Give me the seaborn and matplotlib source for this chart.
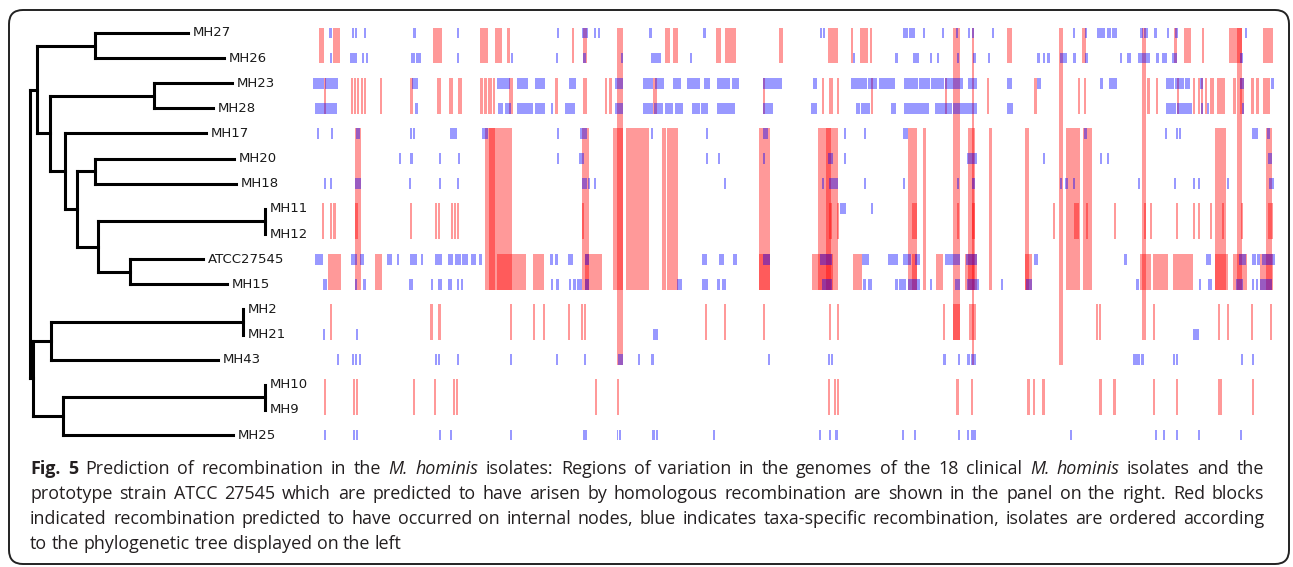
import re
import matplotlib
matplotlib.use("Agg")
import matplotlib.pyplot as plt
from matplotlib.patches import FancyBboxPatch
from matplotlib.transforms import IdentityTransform
import seaborn as sns
import pandas as pd

sns.set_theme(style="white")
plt.rcParams['font.family'] = ['DejaVu Sans']

# isolates in the order of the tree (top to bottom)
isolates = ["MH27", "MH26", "MH23", "MH28", "MH17", "MH20", "MH18", "MH11", "MH12",
            "ATCC27545", "MH15", "MH2", "MH21", "MH43", "MH10", "MH9", "MH25"]

# phylogeny (branch lengths)
tree_newick = ("(((MH27:93,MH26:129):58,((MH23:78,MH28:59):104,(MH17:141,((MH20:139,MH18:141):18,"
               "((MH11:0,MH12:0):167,(ATCC27545:73,MH15:97):32):21):12):15):13):7,"
               "(((MH2:0,MH21:0):192,MH43:167):18,((MH10:0,MH9:0):202,MH25:170):30):3);")

# recombination on internal nodes: (start, end, first isolate, last isolate)
red_blocks = [
    # MH27 / MH26
    (7, 12, "MH27", "MH26"), (21, 28, "MH27", "MH26"), (121, 130, "MH27", "MH26"),
    (168, 176, "MH27", "MH26"), (183, 190, "MH27", "MH26"), (195, 198, "MH27", "MH26"),
    (260, 262, "MH27", "MH26"), (271, 275, "MH27", "MH26"), (353, 358, "MH27", "MH26"),
    (361, 366, "MH27", "MH26"), (404, 409, "MH27", "MH26"), (413, 424, "MH27", "MH26"),
    (467, 471, "MH27", "MH26"), (516, 526, "MH27", "MH26"), (539, 541, "MH27", "MH26"),
    (548, 556, "MH27", "MH26"), (558, 560, "MH27", "MH26"), (695, 700, "MH27", "MH26"),
    (770, 774, "MH27", "MH26"), (862, 865, "MH27", "MH26"), (872, 879, "MH27", "MH26"),
    (890, 892, "MH27", "MH26"), (917, 930, "MH27", "MH26"), (951, 961, "MH27", "MH26"),
    # long shared blocks
    (305, 311, "MH27", "MH43"), (660, 662, "MH27", "MH43"), (747, 751, "MH27", "MH43"),
    (641, 648, "MH27", "MH21"), (830, 834, "MH27", "MH21"), (925, 930, "MH27", "MH15"),
    # MH23 / MH28
    (12, 14, "MH23", "MH28"), (39, 41, "MH23", "MH28"), (42, 44, "MH23", "MH28"),
    (45, 47, "MH23", "MH28"), (49, 51, "MH23", "MH28"), (52, 54, "MH23", "MH28"),
    (68, 70, "MH23", "MH28"), (98, 101, "MH23", "MH28"), (125, 129, "MH23", "MH28"),
    (137, 141, "MH23", "MH28"), (146, 150, "MH23", "MH28"), (168, 171, "MH23", "MH28"),
    (172, 175, "MH23", "MH28"), (176, 180, "MH23", "MH28"), (181, 183, "MH23", "MH28"),
    (197, 201, "MH23", "MH28"), (243, 246, "MH23", "MH28"), (271, 275, "MH23", "MH28"),
    (293, 295, "MH23", "MH28"), (297, 300, "MH23", "MH28"), (341, 345, "MH23", "MH28"),
    (451, 453, "MH23", "MH28"), (510, 512, "MH23", "MH28"), (517, 521, "MH23", "MH28"),
    (525, 527, "MH23", "MH28"), (559, 561, "MH23", "MH28"), (633, 635, "MH23", "MH28"),
    (675, 677, "MH23", "MH28"), (722, 725, "MH23", "MH28"), (766, 768, "MH23", "MH28"),
    (772, 774, "MH23", "MH28"), (835, 838, "MH23", "MH28"), (844, 846, "MH23", "MH28"),
    (865, 867, "MH23", "MH28"), (881, 883, "MH23", "MH28"), (886, 888, "MH23", "MH28"),
    (889, 891, "MH23", "MH28"), (893, 895, "MH23", "MH28"), (898, 902, "MH23", "MH28"),
    (905, 913, "MH23", "MH28"), (921, 924, "MH23", "MH28"), (928, 932, "MH23", "MH28"),
    (939, 942, "MH23", "MH28"), (944, 947, "MH23", "MH28"), (951, 958, "MH23", "MH28"),
    # MH17 .. MH15
    (43, 49, "MH17", "MH15"), (173, 200, "MH17", "MH15"), (177, 183, "MH17", "MH15"),
    (270, 277, "MH17", "MH15"), (301, 311, "MH17", "MH15"), (314, 337, "MH17", "MH15"),
    (350, 354, "MH17", "MH15"), (355, 366, "MH17", "MH15"), (447, 458, "MH17", "MH15"),
    (506, 526, "MH17", "MH15"), (514, 519, "MH17", "MH15"), (596, 605, "MH17", "MH15"),
    (611, 614, "MH17", "MH15"), (656, 663, "MH17", "MH15"), (677, 680, "MH17", "MH15"),
    (713, 717, "MH17", "MH15"), (754, 768, "MH17", "MH15"), (771, 780, "MH17", "MH15"),
    (903, 914, "MH17", "MH15"), (954, 960, "MH17", "MH15"),
    # MH11 / MH12
    (10, 12, "MH11", "MH12"), (18, 20, "MH11", "MH12"), (21, 24, "MH11", "MH12"),
    (43, 46, "MH11", "MH12"), (98, 100, "MH11", "MH12"), (123, 125, "MH11", "MH12"),
    (126, 128, "MH11", "MH12"), (139, 141, "MH11", "MH12"), (142, 144, "MH11", "MH12"),
    (145, 147, "MH11", "MH12"), (270, 272, "MH11", "MH12"), (517, 520, "MH11", "MH12"),
    (525, 527, "MH11", "MH12"), (600, 605, "MH11", "MH12"), (645, 647, "MH11", "MH12"),
    (660, 663, "MH11", "MH12"), (741, 743, "MH11", "MH12"), (762, 767, "MH11", "MH12"),
    (774, 776, "MH11", "MH12"), (802, 804, "MH11", "MH12"), (832, 834, "MH11", "MH12"),
    (838, 840, "MH11", "MH12"), (864, 866, "MH11", "MH12"), (881, 883, "MH11", "MH12"),
    (886, 888, "MH11", "MH12"), (898, 900, "MH11", "MH12"), (910, 912, "MH11", "MH12"),
    (929, 931, "MH11", "MH12"), (956, 961, "MH11", "MH12"),
    # ATCC27545 / MH15
    (16, 29, "ATCC27545", "MH15"), (63, 70, "ATCC27545", "MH15"), (185, 214, "ATCC27545", "MH15"),
    (221, 232, "ATCC27545", "MH15"), (273, 290, "ATCC27545", "MH15"), (447, 458, "ATCC27545", "MH15"),
    (500, 521, "ATCC27545", "MH15"), (541, 550, "ATCC27545", "MH15"), (600, 605, "ATCC27545", "MH15"),
    (624, 631, "ATCC27545", "MH15"), (653, 665, "ATCC27545", "MH15"), (713, 720, "ATCC27545", "MH15"),
    (828, 839, "ATCC27545", "MH15"), (841, 856, "ATCC27545", "MH15"), (861, 881, "ATCC27545", "MH15"),
    (903, 916, "ATCC27545", "MH15"), (921, 935, "ATCC27545", "MH15"), (948, 961, "ATCC27545", "MH15"),
    # MH2 / MH21
    (18, 20, "MH2", "MH21"), (118, 121, "MH2", "MH21"), (126, 129, "MH2", "MH21"),
    (198, 200, "MH2", "MH21"), (221, 223, "MH2", "MH21"), (231, 233, "MH2", "MH21"),
    (256, 258, "MH2", "MH21"), (269, 271, "MH2", "MH21"), (272, 274, "MH2", "MH21"),
    (393, 395, "MH2", "MH21"), (412, 414, "MH2", "MH21"), (451, 453, "MH2", "MH21"),
    (517, 519, "MH2", "MH21"), (525, 527, "MH2", "MH21"), (631, 633, "MH2", "MH21"),
    (641, 648, "MH2", "MH21"), (657, 664, "MH2", "MH21"), (784, 786, "MH2", "MH21"),
    (787, 789, "MH2", "MH21"), (841, 843, "MH2", "MH21"), (906, 908, "MH2", "MH21"),
    (915, 917, "MH2", "MH21"), (939, 941, "MH2", "MH21"), (958, 960, "MH2", "MH21"),
    # MH10 / MH9
    (12, 14, "MH10", "MH9"), (41, 43, "MH10", "MH9"), (44, 46, "MH10", "MH9"),
    (101, 103, "MH10", "MH9"), (122, 124, "MH10", "MH9"), (141, 143, "MH10", "MH9"),
    (144, 146, "MH10", "MH9"), (283, 285, "MH10", "MH9"), (305, 307, "MH10", "MH9"),
    (516, 518, "MH10", "MH9"), (522, 524, "MH10", "MH9"), (525, 527, "MH10", "MH9"),
    (644, 647, "MH10", "MH9"), (659, 661, "MH10", "MH9"), (715, 718, "MH10", "MH9"),
    (721, 723, "MH10", "MH9"), (730, 733, "MH10", "MH9"), (787, 790, "MH10", "MH9"),
    (801, 804, "MH10", "MH9"), (841, 843, "MH10", "MH9"), (864, 866, "MH10", "MH9"),
    (906, 910, "MH10", "MH9"), (940, 942, "MH10", "MH9"),
]

# taxa-specific recombination: (start, end) per isolate
blue_blocks = {
    "MH27": [(17, 20), (40, 42), (43, 45), (52, 54), (101, 104), (145, 147), (245, 247), (270, 276),
             (282, 284), (286, 288), (337, 340), (391, 394), (508, 510), (511, 513), (591, 596),
             (597, 603), (611, 613), (630, 632), (644, 646), (656, 658), (660, 662), (680, 682),
             (761, 763), (773, 775), (785, 793), (795, 799), (800, 805), (828, 831), (832, 836),
             (842, 845), (855, 857), (863, 866), (933, 935)],
    "MH26": [(18, 20), (38, 45), (50, 52), (54, 56), (99, 103), (104, 109), (145, 147), (199, 201),
             (244, 246), (271, 274), (309, 311), (339, 349), (378, 380), (541, 543), (583, 586),
             (601, 607), (618, 620), (625, 627), (645, 647), (661, 664), (676, 678), (725, 728),
             (731, 733), (735, 738), (748, 755), (761, 764), (773, 776), (808, 810), (815, 819),
             (826, 838), (844, 847), (850, 855), (860, 865), (928, 931)],
    "MH23": [(1, 12), (13, 26), (100, 106), (185, 198), (205, 216), (223, 233), (257, 264),
             (303, 311), (331, 341), (343, 352), (361, 369), (375, 388), (392, 398), (405, 418),
             (420, 427), (451, 470), (501, 505), (539, 555), (556, 565), (567, 583), (592, 606),
             (607, 618), (619, 632), (633, 651), (656, 665), (695, 700), (725, 729), (788, 791),
             (797, 805), (854, 862), (863, 872), (873, 878), (888, 891), (928, 932), (959, 962)],
    "MH28": [(3, 25), (103, 106), (186, 191), (193, 199), (205, 221), (223, 233), (239, 241),
             (253, 263), (303, 311), (331, 341), (342, 351), (353, 361), (363, 371), (380, 388),
             (389, 396), (405, 423), (451, 461), (499, 505), (544, 548), (549, 558), (579, 584),
             (592, 617), (623, 640), (641, 665), (695, 701), (854, 864), (865, 880), (889, 891),
             (895, 897), (930, 932)],
    "MH17": [(5, 7), (19, 21), (44, 48), (98, 100), (101, 103), (138, 145), (170, 176), (245, 247),
             (268, 275), (339, 341), (394, 396), (451, 456), (532, 534), (552, 554), (591, 596),
             (772, 775), (853, 855), (864, 866), (867, 869), (940, 946), (955, 958)],
    "MH20": [(87, 89), (98, 101), (127, 129), (146, 148), (245, 247), (267, 272), (394, 396),
             (406, 408), (451, 453), (516, 521), (532, 534), (655, 665), (731, 733), (788, 790),
             (795, 797), (956, 960)],
    "MH18": [(12, 14), (18, 20), (43, 49), (97, 99), (127, 129), (145, 147), (270, 275), (276, 278),
             (282, 284), (412, 414), (510, 512), (517, 526), (552, 554), (591, 593), (645, 647),
             (660, 663), (748, 750), (753, 756), (761, 763), (826, 828), (862, 864), (881, 883),
             (886, 888), (915, 917), (957, 962)],
    "MH11": [(528, 534), (559, 561)],
    "MH12": [],
    "ATCC27545": [(3, 11), (39, 45), (48, 52), (75, 80), (85, 87), (98, 105), (109, 111), (123, 130),
                  (136, 141), (143, 149), (150, 156), (159, 164), (167, 170), (238, 241), (243, 246),
                  (256, 261), (273, 277), (390, 395), (407, 412), (421, 425), (451, 458), (508, 520),
                  (550, 557), (576, 586), (591, 599), (603, 608), (633, 648), (654, 665), (722, 726),
                  (812, 815), (894, 899), (927, 934), (940, 944), (945, 948), (950, 963)],
    "MH15": [(11, 15), (43, 45), (51, 54), (97, 101), (119, 121), (126, 130), (136, 140), (145, 147),
             (149, 151), (239, 241), (244, 247), (257, 259), (261, 264), (265, 270), (273, 277),
             (365, 370), (390, 396), (405, 408), (410, 414), (510, 520), (551, 554), (556, 560),
             (583, 586), (587, 594), (596, 608), (618, 620), (643, 648), (655, 667), (689, 691),
             (714, 720), (824, 827), (887, 889), (896, 900), (924, 931), (940, 942), (944, 946),
             (948, 960)],
    "MH2": [],
    "MH21": [(11, 13), (44, 46), (341, 346), (881, 887)],
    "MH43": [(25, 27), (40, 42), (43, 45), (47, 49), (123, 125), (126, 128), (145, 147), (198, 200),
             (244, 246), (272, 274), (306, 311), (326, 328), (339, 342), (456, 458), (516, 518),
             (519, 521), (631, 634), (646, 648), (655, 658), (659, 664), (821, 828), (829, 832),
             (861, 863), (864, 866), (929, 931), (940, 942)],
    "MH10": [],
    "MH9": [],
    "MH25": [(12, 14), (41, 43), (44, 46), (127, 129), (138, 140), (198, 200), (271, 275), (305, 306),
             (307, 309), (340, 343), (344, 346), (401, 403), (507, 509), (517, 519), (523, 526),
             (590, 592), (602, 604), (646, 648), (655, 657), (659, 664), (758, 760), (843, 845),
             (851, 853), (864, 866), (886, 888), (928, 930)],
}

caption_lines = [
    [("Fig. 5", "bold"), ("Prediction of recombination in the", "normal"), ("M. hominis", "italic"),
     ("isolates: Regions of variation in the genomes of the 18 clinical", "normal"),
     ("M. hominis", "italic"), ("isolates and the", "normal")],
    [("prototype strain ATCC 27545 which are predicted to have arisen by homologous recombination "
      "are shown in the panel on the right. Red blocks", "normal")],
    [("indicated recombination predicted to have occurred on internal nodes, blue indicates "
      "taxa-specific recombination, isolates are ordered according", "normal")],
    [("to the phylogenetic tree displayed on the left", "normal")],
]


def parse_newick(s):
    pos = 0

    def node():
        nonlocal pos
        children = []
        if s[pos] == '(':
            pos += 1
            children.append(node())
            while s[pos] == ',':
                pos += 1
                children.append(node())
            pos += 1
        m = re.match(r'([^:,();]*)(?::([\d.]+))?', s[pos:])
        pos += m.end()
        return {'name': m.group(1), 'length': float(m.group(2) or 0), 'children': children}

    return node()


def layout(n, depth):
    n['x'] = depth + n['length']
    for c in n['children']:
        layout(c, n['x'])
    if n['children']:
        n['y'] = (n['children'][0]['y'] + n['children'][-1]['y']) / 2
    else:
        n['y'] = isolates.index(n['name'])


def draw_tree(ax, n, parent_x=None):
    kw = dict(color='black', lw=2.2, solid_capstyle='projecting')
    if parent_x is not None and n['x'] > parent_x:
        ax.plot([parent_x, n['x']], [n['y'], n['y']], **kw)
    if n['children']:
        ax.plot([n['x'], n['x']], [n['children'][0]['y'], n['children'][-1]['y']], **kw)
        for c in n['children']:
            draw_tree(ax, c, n['x'])
    else:
        ax.text(n['x'] + 5, n['y'], n['name'], va='center', ha='left', fontsize=9.5, color='#1a1a1a')


W, H = 1293, 567
fig = plt.figure(figsize=(W / 100, H / 100), dpi=100)

row_px = (447.6 - 20.4)
ax_bottom = 1 - 447.6 / H
ax_height = row_px / H
ax_tree = fig.add_axes([0, ax_bottom, 312 / W, ax_height])
ax = fig.add_axes([312 / W, ax_bottom, 965 / W, ax_height])

root = parse_newick(tree_newick)
layout(root, 0)
draw_tree(ax_tree, root)
ax_tree.set_xlim(-30, 282)

# recombination panel
half = 0.215
red_df = pd.DataFrame(red_blocks, columns=["start", "end", "first", "last"])
red_df["top"] = red_df["first"].map(isolates.index)
red_df["bottom"] = red_df["last"].map(isolates.index)
ax.bar(x=red_df["start"], height=red_df["bottom"] - red_df["top"] + 2 * half,
       width=red_df["end"] - red_df["start"], bottom=red_df["top"] - half, align='edge',
       color='#ff0000', alpha=0.4, linewidth=0, zorder=2)

blue_df = pd.DataFrame([(s, e, iso) for iso, blocks in blue_blocks.items() for s, e in blocks],
                       columns=["start", "end", "isolate"])
blue_df["row"] = blue_df["isolate"].map(isolates.index)
ax.bar(x=blue_df["start"], height=2 * half, width=blue_df["end"] - blue_df["start"],
       bottom=blue_df["row"] - half, align='edge',
       color='#0000ff', alpha=0.4, linewidth=0, zorder=3)
ax.set_xlim(0, 965)

for a in (ax_tree, ax):
    a.set_ylim(len(isolates) - 0.5, -0.5)
    a.set_xticks([])
    a.set_yticks([])
    for sp in a.spines.values():
        sp.set_visible(False)
    a.patch.set_alpha(0)

# frame round the figure
frame = FancyBboxPatch((9, 3), 1280, 554, boxstyle="round,pad=0,rounding_size=14",
                       transform=IdentityTransform(), fill=False, edgecolor='#222222', lw=1.4)
fig.add_artist(frame)

# caption: justified lines, drawn word by word on a common baseline
cap_font = ['Open Sans', 'DejaVu Sans']
cap_size = 12.9
renderer = fig.canvas.get_renderer()


def make_word(w, style, y):
    return fig.text(0, y, w, fontsize=cap_size, family=cap_font,
                    fontweight='bold' if style == 'bold' else 'normal',
                    fontstyle='italic' if style == 'italic' else 'normal',
                    va='baseline', ha='left', color='#231f20')


probe1 = make_word("x x", "normal", 0)
probe2 = make_word("xx", "normal", 0)
space_px = probe1.get_window_extent(renderer).width - probe2.get_window_extent(renderer).width
probe1.remove()
probe2.remove()

cap_left, cap_right = 30, 1264
baselines = [474, 499, 524, 549]
for k, (line, base) in enumerate(zip(caption_lines, baselines)):
    words = []
    for text, style in line:
        for w in text.split(' '):
            t = make_word(w, style, 1 - base / H)
            words.append((t, t.get_window_extent(renderer).width))
    natural = sum(wd for _, wd in words) + space_px * (len(words) - 1)
    if k == len(caption_lines) - 1 or natural > cap_right - cap_left:
        gap = space_px
    else:
        gap = (cap_right - cap_left - sum(wd for _, wd in words)) / (len(words) - 1)
    x = cap_left
    for t, wd in words:
        t.set_x(x / W)
        x += wd + gap

fig.savefig("out.png", dpi=100)
